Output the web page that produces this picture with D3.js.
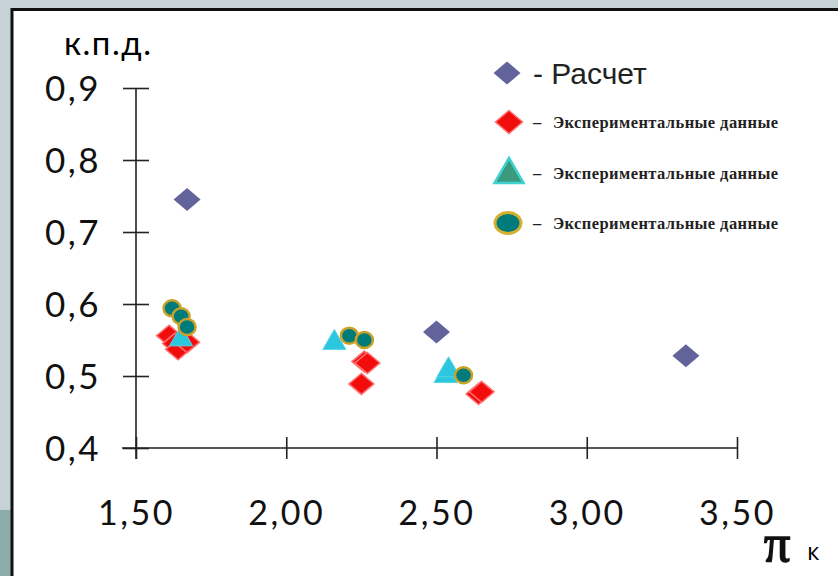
<!DOCTYPE html>
<meta charset="utf-8">
<style>
    body { margin: 0; background: #c7d2d7; }
    svg { display: block; }
    .axis path, .axis line { stroke: #222; stroke-width: 1.6px; }
    .axis text { font-family: Lato, "Open Sans", sans-serif; fill: #111; }
    .legend-small { font-family: "Liberation Serif", serif; font-weight: bold; font-size: 16.5px; fill: #222; }
</style>
<svg width="838" height="576"></svg>
<script src="https://d3js.org/d3.v7.min.js"></script>
<script>
    // calculation
    var calcX = [1.67, 2.50, 3.33],
        calcY = [0.745, 0.561, 0.528];
    // experiment 1 (red diamonds)
    var exp1X = [1.61, 1.63, 1.64, 1.67, 2.26, 2.27, 2.25, 2.64, 2.65],
        exp1Y = [0.556, 0.545, 0.537, 0.547, 0.52, 0.518, 0.489, 0.475, 0.478];
    // experiment 2 (triangles)
    var exp2X = [1.65, 2.16, 2.53, 2.54],
        exp2Y = [0.553, 0.548, 0.502, 0.51];
    // experiment 3 (circles)
    var exp3X = [1.62, 1.65, 1.67, 2.21, 2.26, 2.59],
        exp3Y = [0.594, 0.583, 0.568, 0.556, 0.55, 0.501];

    var xTicks = [1.5, 2.0, 2.5, 3.0, 3.5],
        yTicks = [0.4, 0.5, 0.6, 0.7, 0.8, 0.9];
    var legendLabels = ["- Расчет", "Экспериментальные данные", "Экспериментальные данные", "Экспериментальные данные"];

    var svg = d3.select("svg");

    // slide background
    svg.append("rect").attr("x", 0).attr("y", 510).attr("width", 12).attr("height", 66).attr("fill", "#8aacaa");
    svg.append("rect").attr("x", 12).attr("y", 9.5).attr("width", 840).attr("height", 580)
        .attr("fill", "#fff").attr("stroke", "#111").attr("stroke-width", 3);

    var x = d3.scaleLinear().domain([1.5, 3.5]).range([136, 737]),
        y = d3.scaleLinear().domain([0.4, 0.9]).range([448, 88]);

    var comma = function(f) { return function(d) { return d3.format(f)(d).replace(".", ","); }; };

    var xAxis = svg.append("g")
        .attr("class", "axis")
        .attr("transform", "translate(0," + y(0.4) + ")")
        .call(d3.axisBottom(x).tickValues(xTicks).tickSize(0).tickPadding(0).tickFormat(comma(".2f")));
    xAxis.select(".domain").attr("d", "M" + (x(1.5) - 14) + ",0H" + x(3.5));
    xAxis.selectAll(".tick line").attr("y1", -11).attr("y2", 11);
    xAxis.selectAll(".tick text").attr("y", 77).attr("dy", 0)
        .style("font-size", "34px").style("letter-spacing", "2.5px");

    var yAxis = svg.append("g")
        .attr("class", "axis")
        .attr("transform", "translate(" + x(1.5) + ",0)")
        .call(d3.axisLeft(y).tickValues(yTicks).tickSize(0).tickPadding(0).tickFormat(comma(".1f")));
    yAxis.select(".domain").attr("d", "M0," + y(0.9) + "V" + (y(0.4) + 11));
    yAxis.selectAll(".tick text").attr("x", -35).attr("dy", "0.36em")
        .style("font-size", "35px").style("letter-spacing", "2.5px");
    yAxis.selectAll(".tick line").attr("x1", -13).attr("x2", 13);

    svg.append("text").attr("x", 64).attr("y", 55)
        .style("font-family", "Lato, sans-serif").style("font-size", "33px").style("letter-spacing", "1.5px")
        .text("к.п.д.");
    svg.append("text").attr("x", 764).attr("y", 561)
        .style("font-family", "'Liberation Serif', serif").style("font-size", "52px")
        .style("fill", "#111").style("stroke", "#111").style("stroke-width", "1.5px").text("π");
    svg.append("text").attr("x", 807).attr("y", 560)
        .style("font-family", "'Open Sans', sans-serif").style("font-size", "24px").text("к");

    function diamondPath(w, h) {
        return "M0," + (-h / 2) + "L" + (w / 2) + ",0L0," + (h / 2) + "L" + (-w / 2) + ",0Z";
    }
    function trianglePath(w, h) {
        return "M0," + (-h * 0.6) + "L" + (w / 2) + "," + (h * 0.4) + "L" + (-w / 2) + "," + (h * 0.4) + "Z";
    }

    var pts = function(xs, ys) { return xs.map(function(d, i) { return { x: d, y: ys[i] }; }); };

    var marks = svg.append("g");

    marks.selectAll(".exp1").data(pts(exp1X, exp1Y)).enter().append("path")
        .attr("class", "exp1")
        .attr("transform", function(d) { return "translate(" + x(d.x) + "," + y(d.y) + ")"; })
        .attr("d", diamondPath(25, 21))
        .attr("fill", "#f20d0d").attr("stroke", "#ff7070").attr("stroke-width", 1.5);

    marks.selectAll(".exp2").data(pts(exp2X, exp2Y)).enter().append("path")
        .attr("class", "exp2")
        .attr("transform", function(d) { return "translate(" + x(d.x) + "," + y(d.y) + ")"; })
        .attr("d", trianglePath(23, 20))
        .attr("fill", "#2cc6de").attr("stroke", "#55d5e5").attr("stroke-width", 1);

    marks.selectAll(".exp3").data(pts(exp3X, exp3Y)).enter().append("ellipse")
        .attr("class", "exp3")
        .attr("cx", function(d) { return x(d.x); })
        .attr("cy", function(d) { return y(d.y); })
        .attr("rx", 8.5).attr("ry", 8)
        .attr("fill", "#007b7b").attr("stroke", "#c9a227").attr("stroke-width", 2.5);

    marks.selectAll(".calc").data(pts(calcX, calcY)).enter().append("path")
        .attr("class", "calc")
        .attr("transform", function(d) { return "translate(" + x(d.x) + "," + y(d.y) + ")"; })
        .attr("d", diamondPath(27, 23))
        .attr("fill", "#63639c");

    // legend
    var legend = svg.append("g");
    legend.append("path").attr("transform", "translate(507,73)").attr("d", diamondPath(27, 23)).attr("fill", "#63639c");
    legend.append("path").attr("transform", "translate(509,122)").attr("d", diamondPath(27, 23))
        .attr("fill", "#f20d0d").attr("stroke", "#ff7070").attr("stroke-width", 1.5);
    legend.append("path").attr("transform", "translate(509,173)").attr("d", trianglePath(29, 25))
        .attr("fill", "#3a9a7e").attr("stroke", "#3fd0d0").attr("stroke-width", 2.5);
    legend.append("ellipse").attr("cx", 508).attr("cy", 223).attr("rx", 13).attr("ry", 10.5)
        .attr("fill", "#007b7b").attr("stroke", "#d6b030").attr("stroke-width", 3);

    legend.append("text").attr("x", 533).attr("y", 84)
        .style("font-family", "'Liberation Sans', Arial, sans-serif").style("font-size", "30px").style("fill", "#222")
        .text(legendLabels[0]);
    [128, 179, 229].forEach(function(ty, i) {
        legend.append("text").attr("class", "legend-small").attr("x", 533).attr("y", ty).text("–");
        legend.append("text").attr("class", "legend-small").attr("x", 553).attr("y", ty)
            .attr("textLength", 225).attr("lengthAdjust", "spacing")
            .text(legendLabels[i + 1]);
    });
</script>
